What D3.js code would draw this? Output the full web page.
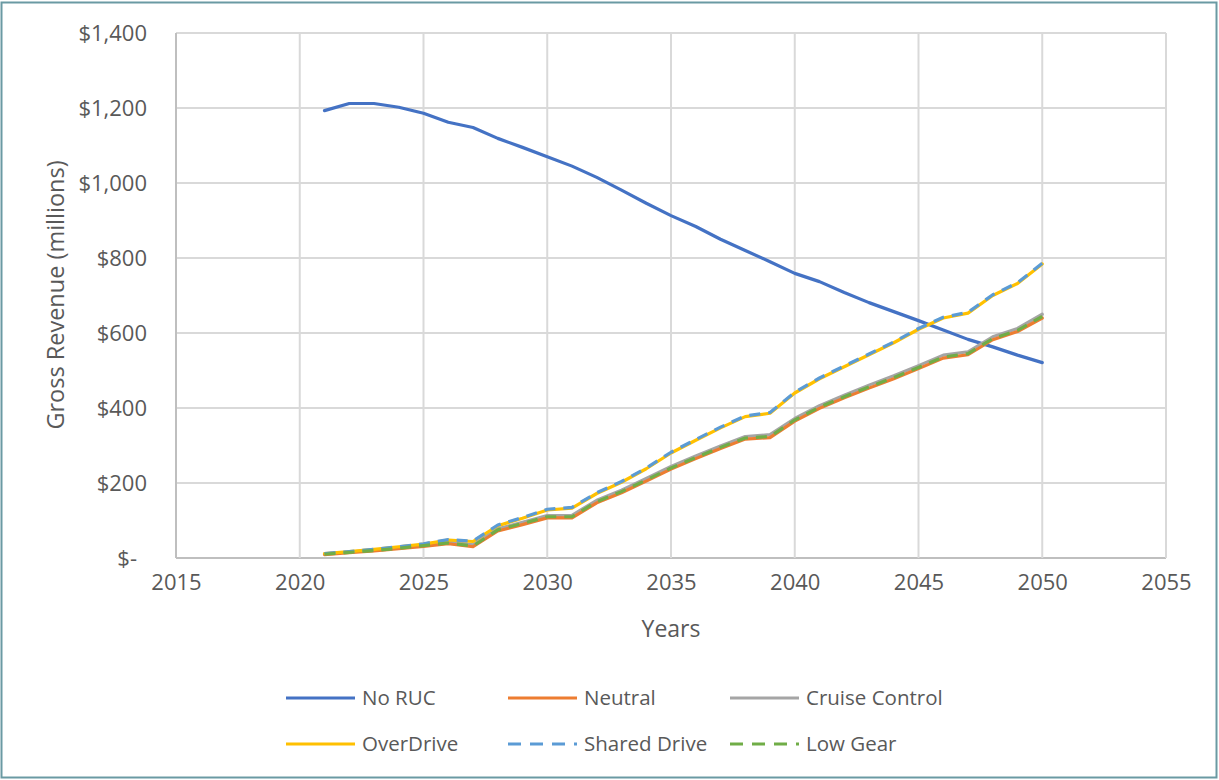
<!DOCTYPE html>
<html>
<head>
<meta charset="utf-8">
<script src="https://cdn.jsdelivr.net/npm/d3@7"></script>
<style>
  html, body { margin: 0; padding: 0; background: #fff; }
  svg { display: block; }
  text { font-family: "Open Sans", "Noto Sans", sans-serif; fill: #595959; }
</style>
</head>
<body>
<svg id="chart" width="1219" height="780"></svg>
<script>
// Gross revenue projections (millions of dollars), 2021–2050
const years = [2021, 2022, 2023, 2024, 2025, 2026, 2027, 2028, 2029, 2030,
               2031, 2032, 2033, 2034, 2035, 2036, 2037, 2038, 2039, 2040,
               2041, 2042, 2043, 2044, 2045, 2046, 2047, 2048, 2049, 2050];

const noRuc = [1193, 1212, 1212, 1202, 1186, 1162, 1148, 1119, 1095, 1070,
               1045, 1015, 981, 946, 913, 884, 850, 820, 790, 759,
               737, 708, 681, 657, 633, 608, 583, 563, 541, 521];

const neutral = [9, 14, 19, 25, 31, 38, 30, 72, 89, 107,
                 107, 147, 174, 205, 237, 265, 292, 317, 321, 365,
                 399, 427, 453, 478, 505, 533, 542, 582, 604, 640];

const cruiseControl = [11, 16, 21, 27, 35, 43, 35, 78, 95, 113,
                       114, 154, 181, 212, 244, 272, 299, 324, 329, 372,
                       406, 434, 461, 486, 513, 541, 550, 590, 612, 650];

const overDrive = [12, 17, 23, 30, 37, 48, 44, 86, 106, 128,
                   133, 172, 202, 238, 280, 314, 347, 377, 386, 440,
                   478, 510, 542, 574, 610, 640, 653, 700, 732, 784];

const sharedDrive = [12, 17, 23, 30, 38, 49, 45, 88, 108, 130,
                     135, 174, 204, 240, 282, 316, 349, 379, 388, 442,
                     480, 512, 544, 576, 612, 642, 655, 702, 734, 786];

const lowGear = [10, 15, 20, 26, 33, 40, 32, 75, 92, 110,
                 110, 150, 177, 208, 240, 268, 295, 320, 324, 368,
                 402, 430, 456, 481, 508, 536, 545, 585, 607, 644];

const xTicks = [2015, 2020, 2025, 2030, 2035, 2040, 2045, 2050, 2055];
const yTicks = [0, 200, 400, 600, 800, 1000, 1200, 1400];

const seriesNames = ["No RUC", "Neutral", "Cruise Control", "OverDrive", "Shared Drive", "Low Gear"];
const seriesColors = ["#4472C4", "#ED7D31", "#A5A5A5", "#FFC000", "#5B9BD5", "#70AD47"];
const seriesDashed = [false, false, false, false, true, true];
const seriesValues = [noRuc, neutral, cruiseControl, overDrive, sharedDrive, lowGear];

const series = seriesNames.map((name, i) => ({
  name,
  color: seriesColors[i],
  dashed: seriesDashed[i],
  points: years.map((yr, j) => ({ year: yr, value: seriesValues[i][j] }))
}));

const svg = d3.select("#chart");

// outer chart frame
svg.append("rect")
  .attr("x", 1.5).attr("y", 2.5)
  .attr("width", 1215).attr("height", 775)
  .attr("fill", "#fff")
  .attr("stroke", "#6A9AA3")
  .attr("stroke-width", 2);

const plot = { left: 176, right: 1166, top: 33, bottom: 558 };

const x = d3.scaleLinear().domain([2015, 2055]).range([plot.left, plot.right]);
const y = d3.scaleLinear().domain([0, 1400]).range([plot.bottom, plot.top]);

const fmtMoney = d3.format("$,");

// gridlines
const grid = svg.append("g").attr("class", "grid");
grid.selectAll("line.h").data(yTicks).join("line")
  .attr("class", "h")
  .attr("x1", plot.left).attr("x2", plot.right)
  .attr("y1", d => y(d)).attr("y2", d => y(d))
  .attr("stroke", d => d === 0 ? "#BFBFBF" : "#D9D9D9")
  .attr("stroke-width", 2);
grid.selectAll("line.v").data(xTicks).join("line")
  .attr("class", "v")
  .attr("x1", d => x(d)).attr("x2", d => x(d))
  .attr("y1", plot.top).attr("y2", plot.bottom)
  .attr("stroke", d => d === 2015 ? "#BFBFBF" : "#D9D9D9")
  .attr("stroke-width", 2);

// y axis labels
const yAxis = svg.append("g")
  .attr("transform", `translate(${plot.left},0)`)
  .call(d3.axisLeft(y).tickValues(yTicks).tickSize(0).tickPadding(29)
    .tickFormat(d => d === 0 ? "$-" : fmtMoney(d)));
yAxis.select(".domain").remove();
yAxis.selectAll("text")
  .style("font-size", "22px")
  .attr("fill", "#595959")
  .attr("dy", "0.36em")
  .attr("x", d => d === 0 ? -39 : -29);

// x axis labels
const xAxis = svg.append("g")
  .attr("transform", `translate(0,${plot.bottom})`)
  .call(d3.axisBottom(x).tickValues(xTicks).tickSize(0).tickPadding(16)
    .tickFormat(d3.format("d")));
xAxis.select(".domain").remove();
xAxis.selectAll("text")
  .style("font-size", "22px")
  .attr("fill", "#595959");

// axis titles
svg.append("text")
  .attr("x", 671).attr("y", 637)
  .attr("text-anchor", "middle")
  .style("font-size", "23px")
  .text("Years");

svg.append("text")
  .attr("transform", "translate(64,295) rotate(-90)")
  .attr("text-anchor", "middle")
  .style("font-size", "23.5px")
  .text("Gross Revenue (millions)");

// series lines
const line = d3.line()
  .x(d => x(d.year))
  .y(d => y(d.value));

const drawOrder = [0, 2, 1, 3, 4, 5];
svg.append("g").selectAll("path")
  .data(drawOrder.map(i => series[i]))
  .join("path")
  .attr("d", d => line(d.points))
  .attr("fill", "none")
  .attr("stroke", d => d.color)
  .attr("stroke-width", 3.2)
  .attr("stroke-linejoin", "round")
  .attr("stroke-linecap", d => d.dashed ? "butt" : "round")
  .attr("stroke-dasharray", d => d.dashed ? "11,8" : null);

// legend
const legendCols = [286, 508, 730];
const legendRows = [698, 744];
const legend = svg.append("g").selectAll("g")
  .data(series)
  .join("g")
  .attr("transform", (d, i) => `translate(${legendCols[i % 3]},${legendRows[Math.floor(i / 3)]})`);
legend.append("line")
  .attr("x1", 0).attr("x2", 69)
  .attr("y1", 0).attr("y2", 0)
  .attr("stroke", d => d.color)
  .attr("stroke-width", 3.2)
  .attr("stroke-dasharray", d => d.dashed ? "13,9" : null);
legend.append("text")
  .attr("x", 76).attr("y", 0)
  .attr("dy", "0.36em")
  .style("font-size", "20.5px")
  .text(d => d.name);
</script>
</body>
</html>
